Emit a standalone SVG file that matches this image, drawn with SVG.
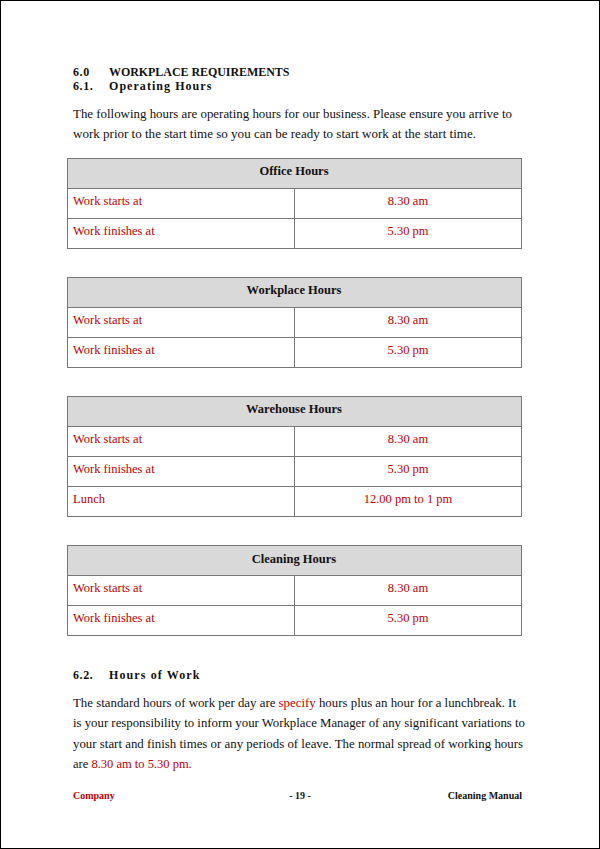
<svg xmlns="http://www.w3.org/2000/svg" width="600" height="849" viewBox="0 0 600 849">
<style>
text{font-family:"Liberation Serif","DejaVu Serif",serif;font-size:12.5px;fill:#111}
.h{font-weight:bold;letter-spacing:0.6px;font-size:12px}
.r{fill:#c00000}
.c{text-anchor:middle}
.b{font-weight:bold}
.hd{fill:#d9d9d9;stroke:#777;stroke-width:1}
.cl{fill:#fff;stroke:#777;stroke-width:1}
.f{font-size:10px;font-weight:bold}
</style>
<rect x="0.5" y="0.5" width="599" height="848" fill="#fff" stroke="#000"/>
<text class="h" x="73" y="76">6.0</text><text class="h" x="109" y="76" textLength="181">WORKPLACE REQUIREMENTS</text>
<text class="h" x="73" y="90">6.1.</text><text class="h" x="109" y="90" textLength="103">Operating Hours</text>
<text x="73" y="118" textLength="439" lengthAdjust="spacingAndGlyphs">The following hours are operating hours for our business. Please ensure you arrive to</text>
<text x="73" y="138" textLength="403" lengthAdjust="spacingAndGlyphs">work prior to the start time so you can be ready to start work at the start time.</text>
<g id="office">
<rect class="hd" x="67.5" y="158.5" width="454" height="30"/>
<rect class="cl" x="67.5" y="188.5" width="227" height="30"/><rect class="cl" x="294.5" y="188.5" width="227" height="30"/>
<rect class="cl" x="67.5" y="218.5" width="227" height="30"/><rect class="cl" x="294.5" y="218.5" width="227" height="30"/>
<text class="b c" x="294" y="175">Office Hours</text>
<text class="r" x="73" y="205">Work starts at</text><text class="r c" x="408" y="205">8.30 am</text>
<text class="r" x="73" y="235">Work finishes at</text><text class="r c" x="408" y="235">5.30 pm</text>
</g>
<g id="workplace">
<rect class="hd" x="67.5" y="277.5" width="454" height="30"/>
<rect class="cl" x="67.5" y="307.5" width="227" height="30"/><rect class="cl" x="294.5" y="307.5" width="227" height="30"/>
<rect class="cl" x="67.5" y="337.5" width="227" height="30"/><rect class="cl" x="294.5" y="337.5" width="227" height="30"/>
<text class="b c" x="294" y="294">Workplace Hours</text>
<text class="r" x="73" y="324">Work starts at</text><text class="r c" x="408" y="324">8.30 am</text>
<text class="r" x="73" y="354">Work finishes at</text><text class="r c" x="408" y="354">5.30 pm</text>
</g>
<g id="warehouse">
<rect class="hd" x="67.5" y="396.5" width="454" height="30"/>
<rect class="cl" x="67.5" y="426.5" width="227" height="30"/><rect class="cl" x="294.5" y="426.5" width="227" height="30"/>
<rect class="cl" x="67.5" y="456.5" width="227" height="30"/><rect class="cl" x="294.5" y="456.5" width="227" height="30"/>
<rect class="cl" x="67.5" y="486.5" width="227" height="30"/><rect class="cl" x="294.5" y="486.5" width="227" height="30"/>
<text class="b c" x="294" y="413">Warehouse Hours</text>
<text class="r" x="73" y="443">Work starts at</text><text class="r c" x="408" y="443">8.30 am</text>
<text class="r" x="73" y="473">Work finishes at</text><text class="r c" x="408" y="473">5.30 pm</text>
<text class="r" x="73" y="503">Lunch</text><text class="r c" x="408" y="503">12.00 pm to 1 pm</text>
</g>
<g id="cleaning">
<rect class="hd" x="67.5" y="545.5" width="454" height="30"/>
<rect class="cl" x="67.5" y="575.5" width="227" height="30"/><rect class="cl" x="294.5" y="575.5" width="227" height="30"/>
<rect class="cl" x="67.5" y="605.5" width="227" height="30"/><rect class="cl" x="294.5" y="605.5" width="227" height="30"/>
<text class="b c" x="294" y="563">Cleaning Hours</text>
<text class="r" x="73" y="592">Work starts at</text><text class="r c" x="408" y="592">8.30 am</text>
<text class="r" x="73" y="622">Work finishes at</text><text class="r c" x="408" y="622">5.30 pm</text>
</g>
<text class="h" x="73" y="679">6.2.</text><text class="h" x="109" y="679" textLength="91">Hours of Work</text>
<text x="73" y="707" textLength="443" lengthAdjust="spacingAndGlyphs">The standard hours of work per day are <tspan class="r">specify</tspan> hours plus an hour for a lunchbreak. It</text>
<text x="73" y="727" textLength="452" lengthAdjust="spacingAndGlyphs">is your responsibility to inform your Workplace Manager of any significant variations to</text>
<text x="73" y="748" textLength="450" lengthAdjust="spacingAndGlyphs">your start and finish times or any periods of leave. The normal spread of working hours</text>
<text x="73" y="768">are <tspan class="r">8.30 am to 5.30 pm.</tspan></text>
<text class="f r" x="73" y="799">Company</text>
<text class="f c" x="300" y="799">- 19 -</text>
<text class="f" x="522" y="799" text-anchor="end">Cleaning Manual</text>
</svg>
